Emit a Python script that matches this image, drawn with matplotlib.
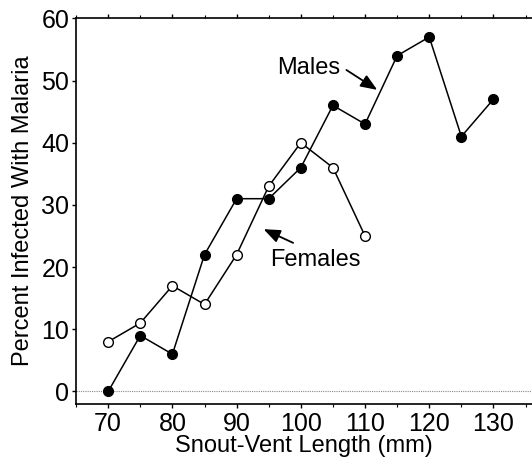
import numpy as np
import matplotlib
matplotlib.use('Agg')
import matplotlib.pyplot as plt
from matplotlib.ticker import MultipleLocator

plt.rcParams['font.family'] = ['Liberation Sans', 'DejaVu Sans']

# snout-vent length classes (mm)
male_svl = [70, 75, 80, 85, 90, 95, 100, 105, 110, 115, 120, 125, 130]
male_pct = [0, 9, 6, 22, 31, 31, 36, 46, 43, 54, 57, 41, 47]
female_svl = [70, 75, 80, 85, 90, 95, 100, 105, 110]
female_pct = [8, 11, 17, 14, 22, 33, 40, 36, 25]

fig = plt.figure(figsize=(5.32, 4.59), dpi=100)
ax = fig.add_axes([0.143, 0.12, 0.857, 0.84])

# dotted baseline at zero
ax.axhline(0, color='#888888', lw=0.8, ls=(0, (1, 1)), zorder=1)

ax.plot(male_svl, male_pct, '-o', color='black', lw=1.1, ms=7,
        mfc='black', mec='black', zorder=3)
ax.plot(female_svl, female_pct, '-o', color='black', lw=1.1, ms=7,
        mfc='white', mec='black', mew=1.0, zorder=4)

ax.set_xlim(65, 136)
ax.set_ylim(-2, 60)
ax.xaxis.set_major_locator(MultipleLocator(10))
ax.xaxis.set_minor_locator(MultipleLocator(5))
ax.yaxis.set_major_locator(MultipleLocator(10))

ax.tick_params(axis='both', which='major', direction='out', length=3,
               width=1, labelsize=18, pad=2)
ax.tick_params(axis='x', which='major', pad=3)
ax.tick_params(axis='x', which='both', top=True, direction='out')
ax.tick_params(axis='x', which='minor', length=2.5, width=0.8)
ax.spines['right'].set_visible(False)
for s in ['left', 'bottom', 'top']:
    ax.spines[s].set_linewidth(1.2)

ax.set_xlabel('Snout-Vent Length (mm)', fontsize=17, labelpad=-1)
ax.set_ylabel('Percent Infected With Malaria', fontsize=17, labelpad=5)

arrow = dict(arrowstyle='-|>,head_width=0.4,head_length=1.0', color='black',
             lw=1.3, shrinkA=0, shrinkB=0)
ax.annotate('', xy=(111.9, 48.5), xytext=(107.1, 51.7), arrowprops=arrow)
ax.text(101.3, 52, 'Males', fontsize=17, ha='center', va='center')
ax.annotate('', xy=(94.2, 26.1), xytext=(98.8, 23.9), arrowprops=arrow)
ax.text(102.3, 21.2, 'Females', fontsize=17, ha='center', va='center')

fig.savefig('out.png', dpi=100)
